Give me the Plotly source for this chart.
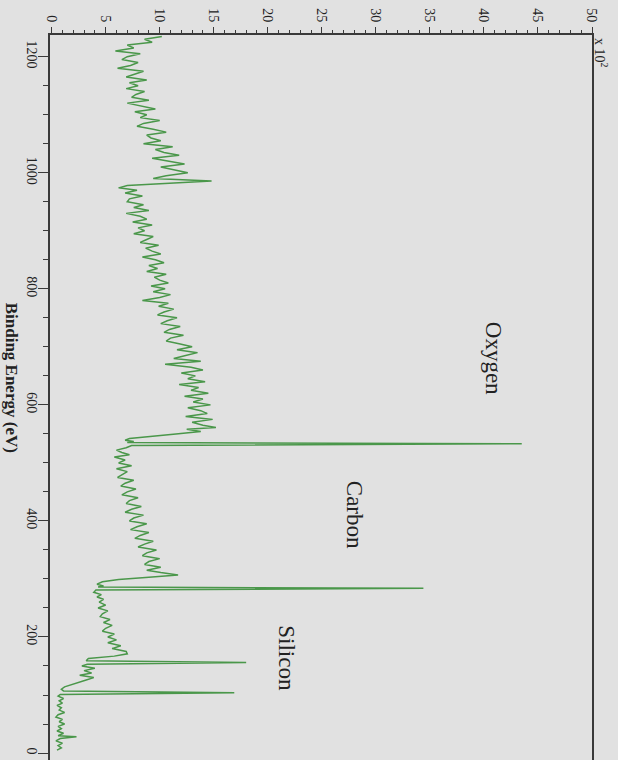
import plotly.graph_objects as go

# ---- data (binding energy in eV, counts) ----
binding_energy = [
    1235, 1230, 1225, 1220, 1215, 1210, 1205, 1200, 1195, 1190, 1185, 1180, 1175, 1170, 1165, 1160,
    1155, 1150, 1145, 1140, 1135, 1130, 1125, 1120, 1115, 1110, 1105, 1100, 1095, 1090, 1085, 1080,
    1075, 1070, 1065, 1060, 1055, 1050, 1045, 1040, 1035, 1030, 1025, 1020, 1015, 1010, 1005, 1000,
    995, 990, 986, 982, 978, 974,
    970, 965, 960, 955, 950, 945, 940, 935, 930, 925, 920, 915, 910, 905, 900, 895, 890, 885, 880,
    875, 870, 865, 860, 855, 850, 845, 840, 835, 830, 825, 820, 815, 810, 805,
    800, 795, 790, 785, 780, 775, 770, 765, 760, 755, 750, 745, 740, 735, 730, 725, 720, 715, 710, 705,
    700, 695, 690, 685, 680, 675, 670, 665, 660, 655, 650, 645, 640, 635, 630, 625, 620, 615, 610,
    605, 600, 595, 590, 585, 580, 575, 570, 565,
    561, 558, 554, 550, 546, 542, 539, 537, 535, 533, 530,
    526, 522, 518, 514, 510, 505, 500, 495, 490, 485, 480, 475, 470, 465, 460, 455, 450, 445, 440,
    435, 430, 425, 420, 415, 410, 405, 400, 395, 390, 385, 380, 375, 370, 365, 360, 355, 350, 345,
    340, 335, 330, 325, 320, 315,
    311, 307, 303, 299, 295, 291, 288, 286, 284,
    281, 277, 273, 269, 265, 260, 255, 250, 245, 240, 235, 230, 225, 220, 215, 210, 205, 200, 195,
    190, 185, 180, 175, 171, 167, 163, 159, 156, 153, 150, 146, 142, 138, 134, 130, 126, 122, 118,
    114, 110, 107, 104, 101, 98, 94, 90, 86, 82, 78, 74, 70, 66, 62, 58, 54, 50, 46, 42, 38, 34,
    30, 28, 25, 21, 17, 13, 9, 5,
]
counts = [
    1020, 860, 930, 700, 760, 590, 820, 700, 650, 800, 730, 610, 850, 760, 690, 880,
    720, 800, 690, 860, 780, 740, 900, 700, 830, 960, 770, 880, 820, 1000, 850, 790,
    940, 1060, 880, 920, 1010, 850, 1120, 960, 1040, 1180, 930, 1090, 1230, 1010, 1150, 1260,
    1060, 940, 1480, 1020, 700, 620,
    790, 680, 840, 720, 700, 850, 760, 900, 690, 820, 880, 750, 930, 800, 860, 760, 940, 880, 820,
    990, 870, 930, 1010, 840, 960, 1040, 900, 980, 880, 1060, 950, 1000, 1080, 920,
    1050, 940, 1100, 1000, 840, 1080, 990, 1130, 1040, 980, 1160, 1070, 1010, 1190, 1090, 1040, 1220, 1100, 1060, 1190,
    1300, 1160, 1350, 1240, 1130, 1380, 1050, 1290, 1400, 1200, 1330, 1260, 1420, 1180, 1360, 1290, 1450, 1230, 1400,
    1310, 1470, 1260, 1380, 1440, 1240, 1490, 1300, 1400,
    1520, 1250, 1380, 1150, 900, 720, 680, 760, 700, 4350, 740,
    690, 600, 650, 720, 580, 680, 620, 740, 600, 700, 660, 610, 760, 680, 640, 780, 700, 650, 800,
    720, 690, 830, 740, 680, 850, 760, 720, 880, 790, 730, 900, 820, 770, 940, 860, 800, 970, 880,
    840, 1000, 900, 860, 1010, 880,
    1010, 1170, 900, 620, 470, 420, 480, 430, 3440,
    410, 390, 460, 420, 480, 440, 500, 430, 520, 470, 450, 540, 480, 560, 500, 470, 580, 520, 600,
    520, 640, 560, 690, 700, 580, 340, 320, 1800, 330, 280, 400, 300, 370, 260, 390, 320, 260, 180,
    120, 90, 110, 1690, 80, 60, 110, 70, 100, 50, 90, 70, 120, 60, 40, 100, 70, 120, 60, 90, 50, 110,
    60, 230, 80, 40, 100, 60, 90, 50,
]
assert len(binding_energy) == len(counts)

energy_ticks = [0, 200, 400, 600, 800, 1000, 1200]
count_ticks = [0, 500, 1000, 1500, 2000, 2500, 3000, 3500, 4000, 4500, 5000]
count_tick_labels = ["0", "5", "10", "15", "20", "25", "30", "35", "40", "45", "50"]

peak_labels = ["Oxygen", "Carbon", "Silicon"]
peak_label_counts = [4090, 2810, 2170]
peak_label_energy = [680, 410, 163]

BG = "#e1e1e1"
AX = "#3a3a3a"
SERIF = "Liberation Serif, Times New Roman, serif"

fig = go.Figure()
fig.add_trace(go.Scatter(
    x=counts, y=binding_energy, mode="lines",
    line=dict(color="#4a974a", width=1.5),
    hoverinfo="skip", showlegend=False,
))

for name, cx, ey in zip(peak_labels, peak_label_counts, peak_label_energy):
    fig.add_annotation(x=cx, y=ey, xref="x", yref="y", text=name, textangle=90,
                       xanchor="center", yanchor="middle",
                       showarrow=False, font=dict(family=SERIF, size=23, color="#222"))

fig.add_annotation(x=-0.071, y=0.528, xref="paper", yref="paper",
                   xanchor="center", yanchor="middle",
                   text="<b>Binding Energy (eV)</b>", textangle=90, showarrow=False,
                   font=dict(family=SERIF, size=17, color="#222"))
fig.add_annotation(x=1.017, y=0.975, xref="paper", yref="paper",
                   xanchor="center", yanchor="middle",
                   text="x 10<sup>2</sup>", textangle=90, showarrow=False,
                   font=dict(family=SERIF, size=14, color="#222"))

fig.update_layout(
    width=618, height=760,
    margin=dict(l=50, r=26, t=35, b=0),
    paper_bgcolor=BG, plot_bgcolor=BG,
    xaxis=dict(
        side="top", range=[-15, 5000], tickvals=count_ticks, ticktext=count_tick_labels,
        tickangle=90, ticks="outside", ticklen=6, tickwidth=1.3, tickcolor=AX,
        minor=dict(dtick=100, ticks="outside", ticklen=3, tickwidth=1, tickcolor=AX),
        showline=True, linecolor=AX, linewidth=1.5, mirror=False,
        showgrid=False, zeroline=False,
        tickfont=dict(family=SERIF, size=14, color="#222"),
    ),
    yaxis=dict(
        range=[-12, 1237.4], tickvals=energy_ticks, tickangle=90,
        ticks="outside", ticklen=10, tickwidth=1.3, tickcolor=AX,
        ticklabelstandoff=-6,
        minor=dict(dtick=50, ticks="outside", ticklen=5, tickwidth=1, tickcolor=AX),
        showline=True, linecolor=AX, linewidth=1.5, mirror=True,
        showgrid=False, zeroline=False,
        tickfont=dict(family=SERIF, size=14, color="#222"),
    ),
)

fig.write_html("out.html")
